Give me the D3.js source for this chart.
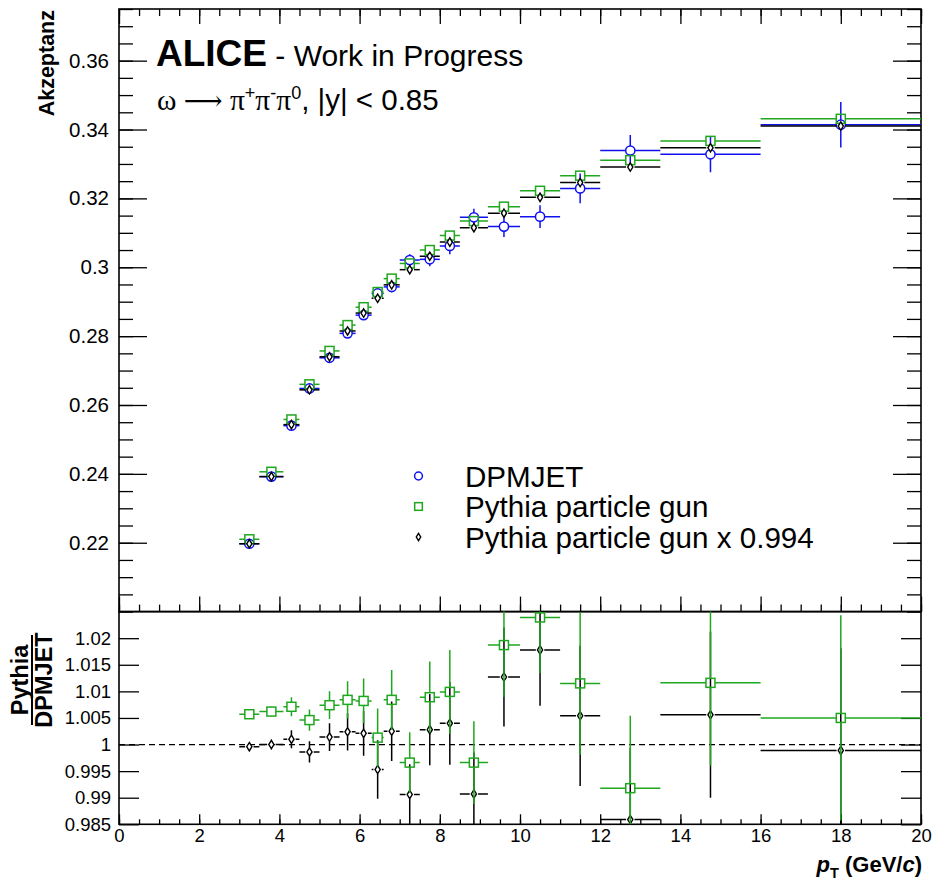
<!DOCTYPE html>
<html><head><meta charset="utf-8">
<script src="https://cdn.jsdelivr.net/npm/d3@7"></script>
<style>body{margin:0;background:#fff}</style>
</head><body>
<svg id="c" width="935" height="886"></svg>
<script>
// ---------------- data ----------------
const binEdges = [3, 3.5, 4.1, 4.5, 5, 5.5, 5.9, 6.3, 6.6, 7, 7.5, 8, 8.5, 9.2, 10, 11, 12, 13.5, 16, 20];
const dpmjet    = [0.2197, 0.2392, 0.2540, 0.2648, 0.2737, 0.2808, 0.2861, 0.2924, 0.2943, 0.3021, 0.3023, 0.3062, 0.3145, 0.3118, 0.3147, 0.3229, 0.3339, 0.3328, 0.3414];
const dpmjetErr = [0.00015, 0.0002, 0.00045, 0.00053, 0.0007, 0.001, 0.0012, 0.0016, 0.0016, 0.0017, 0.002, 0.0024, 0.0025, 0.003, 0.0033, 0.0043, 0.0045, 0.0052, 0.0066];
const pythia    = [0.2210, 0.2406, 0.2558, 0.2660, 0.2757, 0.2832, 0.2884, 0.2928, 0.2967, 0.3011, 0.3050, 0.3092, 0.3134, 0.3176, 0.3222, 0.3266, 0.3311, 0.3367, 0.3431];
const pythiaErr = [0.0001, 0.0001, 0.00015, 0.0002, 0.0002, 0.00025, 0.0003, 0.0003, 0.0003, 0.0004, 0.0004, 0.0005, 0.0005, 0.0006, 0.0006, 0.0008, 0.0009, 0.0009, 0.0012];
const pythiaScaled    = [0.2197, 0.2392, 0.2543, 0.2644, 0.2740, 0.2815, 0.2867, 0.2910, 0.2949, 0.2993, 0.3032, 0.3073, 0.3115, 0.3157, 0.3203, 0.3246, 0.3291, 0.3347, 0.3410];
const pythiaScaledErr = [0.0001, 0.0001, 0.00015, 0.0002, 0.0002, 0.00025, 0.0003, 0.0003, 0.0003, 0.0004, 0.0004, 0.0005, 0.0005, 0.0006, 0.0006, 0.0008, 0.0009, 0.0009, 0.0012];
const ratio    = [1.0057, 1.0062, 1.0071, 1.0046, 1.0074, 1.0084, 1.0082, 1.0013, 1.0084, 0.9966, 1.0089, 1.0099, 0.9966, 1.0187, 1.0239, 1.0115, 0.9918, 1.0116, 1.0050];
const ratioErr = [0.0007, 0.0009, 0.0018, 0.002, 0.0026, 0.0035, 0.0042, 0.0055, 0.0056, 0.0057, 0.0067, 0.0079, 0.0078, 0.0097, 0.0105, 0.0134, 0.0136, 0.0156, 0.0193];
const ratioScaled    = [0.9996, 1.0000, 1.0010, 0.9986, 1.0014, 1.0024, 1.0021, 0.9953, 1.0025, 0.9906, 1.0028, 1.0040, 0.9907, 1.0127, 1.0178, 1.0054, 0.9859, 1.0056, 0.9989];
const ratioScaledErr = [0.0007, 0.0009, 0.0017, 0.002, 0.0026, 0.0035, 0.0042, 0.0055, 0.0056, 0.0057, 0.0067, 0.0078, 0.0078, 0.0093, 0.0105, 0.0132, 0.0135, 0.0156, 0.0192];
const topYTicks = [0.22, 0.24, 0.26, 0.28, 0.30, 0.32, 0.34, 0.36];
const botYTicks = [0.985, 0.99, 0.995, 1, 1.005, 1.01, 1.015, 1.02];
const xTicks = [0, 2, 4, 6, 8, 10, 12, 14, 16, 18, 20];
const legendLabels = ["DPMJET", "Pythia particle gun", "Pythia particle gun x 0.994"];

// ---------------- layout ----------------
const SANS = "'Liberation Sans', Arial, Helvetica, sans-serif";
const SERIF = "'Liberation Serif', 'Times New Roman', serif";
const L = 119, R = 921, T1 = 9, B1 = 611.6, B2 = 824.3;
const BLUE = "#1010f0", GREEN = "#1fa71f", BLACK = "#000";

const svg = d3.select("#c").attr("font-family", SANS);
const x = d3.scaleLinear().domain([0, 20]).range([L, R]);
const yTop = d3.scaleLinear().domain([0.2, 0.375]).range([B1, T1]);
const yBot = d3.scaleLinear().domain([0.985, 1.025]).range([B2, B1]);

const fmt = d => String(+(+d).toFixed(3));
const xMinor = d3.range(0, 20.001, 0.5);
const yTopMinor = d3.range(0.2, 0.3751, 0.005);

function styleAxis(g) {
  g.select(".domain").remove();
  g.selectAll(".tick line").attr("stroke", "#000").attr("stroke-width", 1.3);
  g.selectAll(".tick text").attr("fill", "#000").attr("font-family", SANS);
}

// clip paths
const defs = svg.append("defs");
defs.append("clipPath").attr("id", "clipTop").append("rect").attr("x", L).attr("y", T1).attr("width", R - L).attr("height", B1 - T1);
defs.append("clipPath").attr("id", "clipBot").append("rect").attr("x", L).attr("y", B1).attr("width", R - L).attr("height", B2 - B1);

// ---------------- top panel axes ----------------
svg.append("g").attr("transform", `translate(${L},0)`)
  .call(d3.axisLeft(yTop).tickValues(yTopMinor).tickSize(-14).tickFormat("")).call(styleAxis);
svg.append("g").attr("transform", `translate(${L},0)`)
  .call(d3.axisLeft(yTop).tickValues(topYTicks).tickSize(-28).tickPadding(10).tickFormat(fmt))
  .call(styleAxis).call(g => g.selectAll("text").attr("font-size", 20.5));
svg.append("g").attr("transform", `translate(${R},0)`)
  .call(d3.axisRight(yTop).tickValues(yTopMinor).tickSize(-14).tickFormat("")).call(styleAxis);
svg.append("g").attr("transform", `translate(${R},0)`)
  .call(d3.axisRight(yTop).tickValues(topYTicks).tickSize(-28).tickFormat("")).call(styleAxis);
svg.append("g").attr("transform", `translate(0,${B1})`)
  .call(d3.axisBottom(x).tickValues(xMinor).tickSize(-7).tickFormat("")).call(styleAxis);
svg.append("g").attr("transform", `translate(0,${B1})`)
  .call(d3.axisBottom(x).tickValues(xTicks).tickSize(-15).tickFormat("")).call(styleAxis);
svg.append("g").attr("transform", `translate(0,${T1})`)
  .call(d3.axisTop(x).tickValues(xMinor).tickSize(-7).tickFormat("")).call(styleAxis);
svg.append("g").attr("transform", `translate(0,${T1})`)
  .call(d3.axisTop(x).tickValues(xTicks).tickSize(-15).tickFormat("")).call(styleAxis);

// ---------------- bottom panel axes ----------------
svg.append("g").attr("transform", `translate(${L},0)`)
  .call(d3.axisLeft(yBot).tickValues(botYTicks).tickSize(-20).tickPadding(8).tickFormat(fmt))
  .call(styleAxis).call(g => g.selectAll("text").attr("font-size", 18.5));
svg.append("g").attr("transform", `translate(${R},0)`)
  .call(d3.axisRight(yBot).tickValues(botYTicks).tickSize(-20).tickFormat("")).call(styleAxis);
svg.append("g").attr("transform", `translate(0,${B2})`)
  .call(d3.axisBottom(x).tickValues(xMinor).tickSize(-5).tickFormat("")).call(styleAxis);
svg.append("g").attr("transform", `translate(0,${B2})`)
  .call(d3.axisBottom(x).tickValues(xTicks).tickSize(-10).tickPadding(5).tickFormat(fmt))
  .call(styleAxis).call(g => g.selectAll("text").attr("font-size", 18.5));

// frames
svg.append("rect").attr("x", L).attr("y", T1).attr("width", R - L).attr("height", B1 - T1)
  .attr("fill", "none").attr("stroke", "#000").attr("stroke-width", 1.6);
svg.append("rect").attr("x", L).attr("y", B1).attr("width", R - L).attr("height", B2 - B1)
  .attr("fill", "none").attr("stroke", "#000").attr("stroke-width", 1.6);

// dashed line at 1
svg.append("line").attr("x1", x(0)).attr("x2", x(20)).attr("y1", yBot(1)).attr("y2", yBot(1))
  .attr("stroke", "#000").attr("stroke-width", 1.3).attr("stroke-dasharray", "6,4");

// ---------------- markers & series ----------------
function marker(g, type, color, cx, cy, s) {
  if (type === "circle") {
    g.append("circle").attr("cx", cx).attr("cy", cy).attr("r", 4.6 * s)
      .attr("fill", "none").attr("stroke", color).attr("stroke-width", 1.5);
  } else if (type === "square") {
    const h = 4.5 * s;
    g.append("rect").attr("x", cx - h).attr("y", cy - h).attr("width", 2 * h).attr("height", 2 * h)
      .attr("fill", "none").attr("stroke", color).attr("stroke-width", 1.5);
  } else {
    const hw = 2.6 * s, hh = 4.2 * s;
    g.append("path").attr("d", `M${cx},${cy - hh}L${cx + hw},${cy}L${cx},${cy + hh}L${cx - hw},${cy}Z`)
      .attr("fill", "#fff").attr("stroke", color).attr("stroke-width", 1.4);
  }
}

function drawSeries(clipId, yScale, vals, errs, color, type, gap) {
  const g = svg.append("g").attr("clip-path", `url(#${clipId})`);
  vals.forEach((v, i) => {
    const e0 = binEdges[i], e1 = binEdges[i + 1];
    const cx = x((e0 + e1) / 2), cy = yScale(v);
    const seg = (x1, y1, x2, y2) => g.append("line").attr("x1", x1).attr("y1", y1).attr("x2", x2).attr("y2", y2)
      .attr("stroke", color).attr("stroke-width", 1.5);
    if (x(e0) < cx - gap) seg(x(e0), cy, cx - gap, cy);
    if (x(e1) > cx + gap) seg(cx + gap, cy, x(e1), cy);
    const yHi = yScale(v + errs[i]), yLo = yScale(v - errs[i]);
    if (yHi < cy - gap) seg(cx, yHi, cx, cy - gap);
    if (yLo > cy + gap) seg(cx, cy + gap, cx, yLo);
    marker(g, type, color, cx, cy, 1);
  });
}

// top panel
drawSeries("clipTop", yTop, dpmjet, dpmjetErr, BLUE, "circle", 4.6);
drawSeries("clipTop", yTop, pythia, pythiaErr, GREEN, "square", 4.5);
drawSeries("clipTop", yTop, pythiaScaled, pythiaScaledErr, BLACK, "diamond", 4.2);
// bottom panel
drawSeries("clipBot", yBot, ratioScaled, ratioScaledErr, BLACK, "diamond", 4.2);
drawSeries("clipBot", yBot, ratio, ratioErr, GREEN, "square", 4.5);

// ---------------- legend ----------------
const legTypes = [["circle", BLUE], ["square", GREEN], ["diamond", BLACK]];
const legY = [476, 506.5, 537];
const lg = svg.append("g");
legendLabels.forEach((lab, i) => {
  marker(lg, legTypes[i][0], legTypes[i][1], 418.5, legY[i], 0.85);
  lg.append("text").attr("x", 465).attr("y", legY[i] + 10.5).attr("font-size", 29.6).text(lab);
});

// ---------------- texts ----------------
const t1 = svg.append("text").attr("x", 156).attr("y", 66);
t1.append("tspan").attr("font-weight", "bold").attr("font-size", 37).text("ALICE");
t1.append("tspan").attr("font-size", 30).text(" - Work in Progress");

const t2 = svg.append("text").attr("x", 157).attr("y", 110).attr("font-size", 29.5);
t2.append("tspan").attr("font-family", SERIF).text("ω ");
t2.append("tspan").attr("font-family", "'DejaVu Serif', " + SERIF).attr("font-size", 27).text("⟶");
t2.append("tspan").attr("font-family", SERIF).text(" π");
t2.append("tspan").attr("font-size", 18).attr("dy", -11).text("+");
t2.append("tspan").attr("font-family", SERIF).attr("dy", 11).text("π");
t2.append("tspan").attr("font-size", 18).attr("dy", -11).text("-");
t2.append("tspan").attr("font-family", SERIF).attr("dy", 11).text("π");
t2.append("tspan").attr("font-size", 18).attr("dy", -11).text("0");
t2.append("tspan").attr("dy", 11).text(", |y| < 0.85");

// y title top
svg.append("text").attr("transform", "translate(54,10) rotate(-90)")
  .attr("text-anchor", "end").attr("font-weight", "bold").attr("font-size", 21.5).text("Akzeptanz");

// y title bottom (fraction)
const fr = svg.append("g").attr("transform", "translate(32,680) rotate(-90)")
  .attr("font-weight", "bold").attr("font-size", 23.5).attr("text-anchor", "middle");
fr.append("text").attr("x", 0).attr("y", -4).text("Pythia");
fr.append("text").attr("x", 0).attr("y", 20).text("DPMJET");
fr.append("line").attr("x1", -45).attr("x2", 45).attr("y1", 0).attr("y2", 0)
  .attr("stroke", "#000").attr("stroke-width", 2);

// x title
const xt = svg.append("text").attr("x", 922).attr("y", 872).attr("text-anchor", "end")
  .attr("font-weight", "bold").attr("font-size", 22);
xt.append("tspan").attr("font-style", "italic").text("p");
xt.append("tspan").attr("font-size", 14.5).attr("dy", 6).text("T");
xt.append("tspan").attr("dy", -6).text(" (GeV/");
xt.append("tspan").attr("font-style", "italic").text("c");
xt.append("tspan").text(")");
</script>
</body></html>
